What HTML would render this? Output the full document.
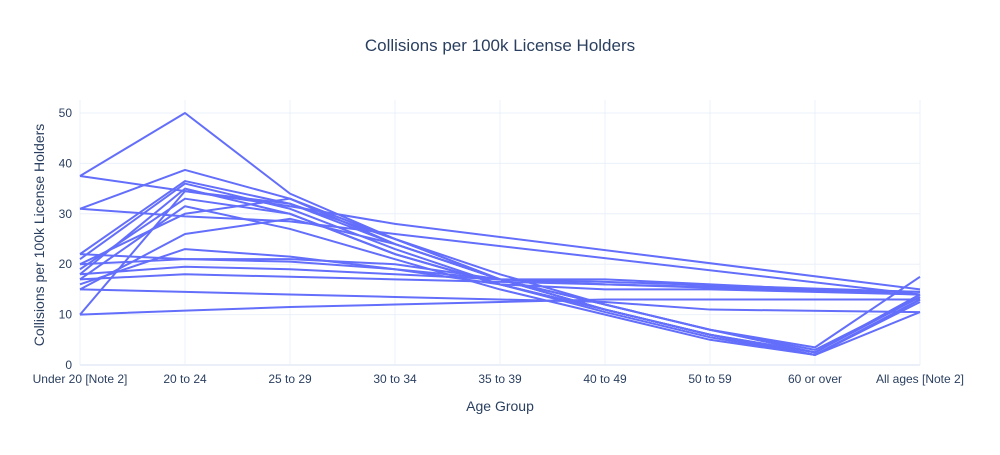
<!DOCTYPE html>
<html><head><meta charset="utf-8"><style>
body{margin:0;background:#fff;font-family:"Liberation Sans",Arial,sans-serif;}
svg text{font-family:"Liberation Sans",Arial,sans-serif;fill:#2a3f5f;}
</style></head><body>
<svg id="chart" width="1000" height="450">
<rect width="1000" height="450" fill="#fff"/>
<text x="500" y="51" text-anchor="middle" font-size="17">Collisions per 100k License Holders</text>
<g id="grid"></g><g id="lines"></g><g id="xt"></g><g id="yt"></g>
<text x="500" y="411" text-anchor="middle" font-size="14">Age Group</text>
<text transform="translate(44,235) rotate(-90)" text-anchor="middle" font-size="14">Collisions per 100k License Holders</text>
</svg>
<script>
const categories=["Under 20 [Note 2]","20 to 24","25 to 29","30 to 34","35 to 39","40 to 49","50 to 59","60 or over","All ages [Note 2]"];
const yTicks=[0,10,20,30,40,50];
const s1=[37.5,50,34,25,18,12,7,2.5,13.5];
const s2=[31,38.7,33,24,17,11,6,2,13];
const s3=[37.5,34.5,31.5,28,null,null,null,null,15];
const s4=[31,29.5,28.5,26,null,null,null,null,14];
const s5=[22,36.5,32,24,17,11,6,2,13];
const s6=[21,36,31,23,16,10.5,5.5,2,12.5];
const s7=[18,35,30,22,16,11,6,2.5,14];
const s8=[10,34.5,32,25,17,12,7,3.5,17.5];
const s9=[19,33,30,22,16,11,6,2,13];
const s10=[17,31.5,27,21,15,10,5,2,10.5];
const s11=[20,30,33,25,17,11,6,2.5,14];
const s12=[15,26,29,24,17,12,7,3,13.5];
const s13=[16,23,21.5,19,17,16,15.5,null,14.5];
const s14=[22,21,20.5,19,16,15,15,null,14];
const s15=[20,21,21,20,17,16.5,null,null,14.5];
const s16=[18,19.5,19,18,17,17,null,null,14];
const s17=[17,18,17.5,17,16.5,16,null,null,14];
const s18=[15,14.5,14,13.5,13,12.5,11,null,10.5];
const s19=[10,10.8,11.5,12,12.5,13,null,null,13];
const series=[s1,s2,s3,s4,s5,s6,s7,s8,s9,s10,s11,s12,s13,s14,s15,s16,s17,s18,s19];
const NS="http://www.w3.org/2000/svg";
const x0=80,x1=920,y0=365,yPer=(365-113)/50;
const xs=i=>x0+i*(x1-x0)/(categories.length-1);
const ys=v=>y0-v*yPer;
const grid=document.getElementById('grid'),xt=document.getElementById('xt'),yt=document.getElementById('yt'),lines=document.getElementById('lines');
categories.forEach((c,i)=>{
 const l=document.createElementNS(NS,'line');
 l.setAttribute('x1',xs(i));l.setAttribute('x2',xs(i));l.setAttribute('y1',100);l.setAttribute('y2',365);l.setAttribute('stroke','#ebf0f8');
 
 
 grid.appendChild(l);
 const t=document.createElementNS(NS,'text');
 t.setAttribute('x',xs(i));t.setAttribute('y',383);t.setAttribute('text-anchor','middle');t.setAttribute('font-size','12');t.textContent=c;
 
 
 xt.appendChild(t);
});
yTicks.forEach(v=>{
 const l=document.createElementNS(NS,'line');
 l.setAttribute('x1',x0);l.setAttribute('x2',x1);l.setAttribute('y1',ys(v));l.setAttribute('y2',ys(v));l.setAttribute('stroke',v===0?'#ebf0f8':'#ebf0f8');l.setAttribute('stroke-width',v===0?2:1);
 
 
 grid.appendChild(l);
 const t=document.createElementNS(NS,'text');
 t.setAttribute('x',72);t.setAttribute('y',ys(v)+4);t.setAttribute('text-anchor','end');t.setAttribute('font-size','12');t.textContent=v;
 
 
 yt.appendChild(t);
});
series.forEach((s,k)=>{
 const pts=[];s.forEach((v,i)=>{if(v!==null)pts.push(xs(i)+','+ys(v));});
 const p=document.createElementNS(NS,'polyline');
 p.setAttribute('points',pts.join(' '));p.setAttribute('fill','none');p.setAttribute('stroke','#636efa');p.setAttribute('stroke-width','2');p.setAttribute('stroke-linejoin','round');
 
 
 lines.appendChild(p);
});
</script>
</body></html>
